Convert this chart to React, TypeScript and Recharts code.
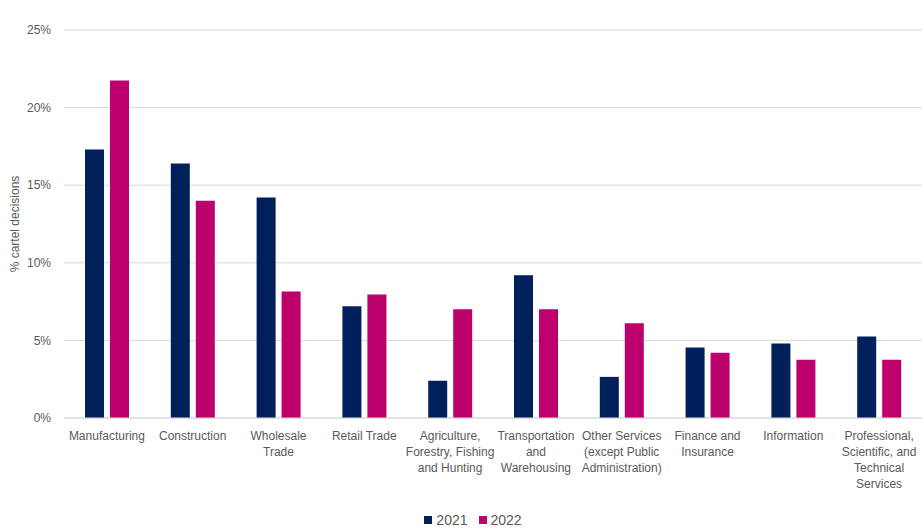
import React from "react";
import { BarChart, Bar, XAxis, YAxis, CartesianGrid, Legend } from "recharts";

const categories = [
  "Manufacturing",
  "Construction",
  "Wholesale\nTrade",
  "Retail Trade",
  "Agriculture,\nForestry, Fishing\nand Hunting",
  "Transportation\nand\nWarehousing",
  "Other Services\n(except Public\nAdministration)",
  "Finance and\nInsurance",
  "Information",
  "Professional,\nScientific, and\nTechnical\nServices",
];
const values2021 = [17.3, 16.4, 14.2, 7.2, 2.4, 9.2, 2.65, 4.55, 4.8, 5.25];
const values2022 = [21.75, 14.0, 8.15, 7.95, 7.0, 7.0, 6.1, 4.2, 3.75, 3.75];
const yTicks = [0, 5, 10, 15, 20, 25];
const seriesNames = ["2021", "2022"];
const colors = ["#00205b", "#bc006c"];

const data = categories.map((c, i) => ({
  name: c,
  y2021: values2021[i],
  y2022: values2022[i],
}));

const FONT = "'Liberation Sans', Arial, sans-serif";
const GRAY = "#595959";

const XTick = (props: any) => {
  const { x, y, payload } = props;
  const lines = String(payload.value).split("\n");
  return (
    <text x={x} y={y + 14} textAnchor="middle" fill={GRAY} fontSize={12} fontFamily={FONT}>
      {lines.map((l, i) => (
        <tspan key={i} x={x} dy={i === 0 ? 0 : 16}>
          {l}
        </tspan>
      ))}
    </text>
  );
};

const LegendContent = () => (
  <div style={{ display: "flex", justifyContent: "center", fontFamily: FONT, fontSize: 14, color: GRAY, marginLeft: 24, paddingTop: 10 }}>
    {seriesNames.map((n, i) => (
      <div key={n} style={{ display: "flex", alignItems: "center", marginRight: i === 0 ? 11 : 0 }}>
        <span style={{ width: 8, height: 8, background: colors[i], display: "inline-block", marginRight: 4 }} />
        <span>{n}</span>
      </div>
    ))}
  </div>
);

const YLabel = (props: any) => {
  const { viewBox } = props;
  const cy = viewBox.y + viewBox.height / 2;
  return (
    <text x={15} y={cy} transform={`rotate(-90, 15, ${cy})`} textAnchor="middle" dominantBaseline="central" fill={GRAY} fontSize={12} fontFamily={FONT}>
      % cartel decisions
    </text>
  );
};

export default function App() {
  return (
    <div style={{ position: "absolute", left: 0, top: 0, width: 922, height: 532, background: "#fff" }}>
      <BarChart
        width={922}
        height={532}
        data={data}
        margin={{ top: 30, right: 0, bottom: 0, left: 0 }}
        barSize={19}
        barGap={6}
      >
        <CartesianGrid vertical={false} stroke="#d9d9d9" />
        <XAxis
          dataKey="name"
          interval={0}
          axisLine={{ stroke: "#d9d9d9" }}
          tickLine={false}
          height={84}
          tick={<XTick />}
        />
        <YAxis
          width={64}
          domain={[0, 25]}
          ticks={yTicks}
          tickFormatter={(v: number) => `${v}%`}
          axisLine={false}
          tickLine={false}
          tickMargin={7}
          tick={{ fill: GRAY, fontSize: 12, fontFamily: FONT }}
          label={<YLabel />}
        />
        <Legend verticalAlign="bottom" height={30} content={<LegendContent />} />
        <Bar dataKey="y2021" name="2021" fill={colors[0]} isAnimationActive={false} />
        <Bar dataKey="y2022" name="2022" fill={colors[1]} isAnimationActive={false} />
      </BarChart>
    </div>
  );
}
